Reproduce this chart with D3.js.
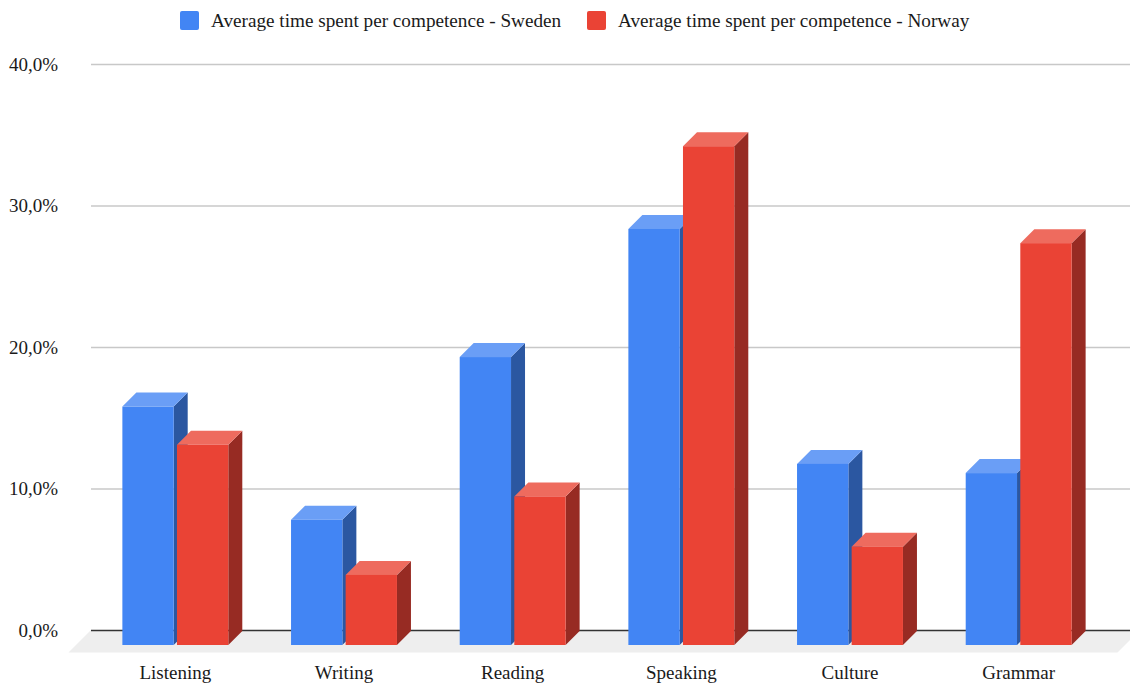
<!DOCTYPE html>
<html>
<head>
<meta charset="utf-8">
<script src="https://cdn.jsdelivr.net/npm/d3@7/dist/d3.min.js"></script>
<style>
	html, body { margin: 0; padding: 0; background: #fff; }
	svg { display: block; font-family: "Liberation Serif", serif; }
</style>
</head>
<body>
<svg id="chart" width="1130" height="684"></svg>
<script>
const categories = ['Listening', 'Writing', 'Reading', 'Speaking', 'Culture', 'Grammar'];
const seriesNames = ['Average time spent per competence - Sweden', 'Average time spent per competence - Norway'];
const sweden = [16.85, 8.85, 20.35, 29.4, 12.8, 12.15];
const norway = [14.15, 4.95, 10.5, 35.25, 6.95, 28.4];
const yTicks = [0, 10, 20, 30, 40];
const colors = [
	{front: '#4285f4', top: '#6a9ef6', side: '#2b57a1'},
	{front: '#ea4335', top: '#ee6b5e', side: '#972b23'},
];

const depthX = 14;
const depthY = 14;
const frontDrop = 15;
const floorOver = 22.5;
const left = 91;
const right = 1130;
const textColor = '#1a1a1a';

let svg = d3.select('#chart');
let locale = d3.formatLocale({decimal: ',', thousands: '.', grouping: [3], currency: ['', '']});
let fmt = locale.format('.1f');

let y = d3.scaleLinear().domain([0, 40]).range([630, 64]);
let x0 = d3.scaleBand().domain(categories).range([91, 1103]).paddingInner(0.372).paddingOuter(0.186);
let x1 = d3.scaleBand().domain([0, 1]).range([0, x0.bandwidth()]).paddingInner(0.06);

// floor under the bars
let floor = [
	[left, y(0)],
	[right + 10, y(0)],
	[right + 10 - floorOver, y(0) + floorOver],
	[left - floorOver, y(0) + floorOver],
];
svg.append('polygon')
	.attr('points', floor.join(' '))
	.attr('fill', '#eeeeee');

// y axis with gridlines
let yAxis = d3.axisLeft(y)
	.tickValues(yTicks)
	.tickSize(left - right)
	.tickFormat(d => fmt(d) + '%');
let yg = svg.append('g')
	.attr('transform', `translate(${left},0)`)
	.call(yAxis);
yg.select('.domain').remove();
yg.selectAll('.tick line')
	.attr('stroke', d => d === 0 ? '#333333' : '#c8c8c8')
	.attr('stroke-width', d => d === 0 ? 1.4 : 1.3);
yg.selectAll('.tick text')
	.attr('x', -33)
	.attr('fill', textColor)
	.attr('font-size', 19)
	.attr('font-family', '"Liberation Serif", serif');

// bars
let bars = [];
categories.forEach((c, i) => {
	bars.push({cat: c, s: 0, v: sweden[i]});
	bars.push({cat: c, s: 1, v: norway[i]});
});
let base = y(0) + frontDrop;
let bar = svg.append('g').selectAll('g').data(bars).join('g');

bar.append('polygon')
	.attr('fill', d => colors[d.s].side)
	.attr('points', d => {
		let r = x0(d.cat) + x1(d.s) + x1.bandwidth();
		let t = y(d.v) + frontDrop;
		return [[r, t], [r + depthX, t - depthY], [r + depthX, base - depthY], [r, base]].join(' ');
	});
bar.append('polygon')
	.attr('fill', d => colors[d.s].top)
	.attr('points', d => {
		let l = x0(d.cat) + x1(d.s);
		let r = l + x1.bandwidth();
		let t = y(d.v) + frontDrop;
		return [[l, t], [r, t], [r + depthX, t - depthY], [l + depthX, t - depthY]].join(' ');
	});
bar.append('rect')
	.attr('fill', d => colors[d.s].front)
	.attr('x', d => x0(d.cat) + x1(d.s))
	.attr('y', d => y(d.v) + frontDrop)
	.attr('width', x1.bandwidth())
	.attr('height', d => y(0) - y(d.v));

// category labels
let xAxis = d3.axisBottom(x0).tickSize(0);
let xg = svg.append('g')
	.attr('transform', 'translate(0,662)')
	.call(xAxis);
xg.select('.domain').remove();
xg.selectAll('.tick text')
	.attr('y', 3)
	.attr('fill', textColor)
	.attr('font-size', 19)
	.attr('font-family', '"Liberation Serif", serif');

// legend
let swatchX = [180, 587];
let legend = svg.append('g').selectAll('g').data(seriesNames).join('g')
	.attr('transform', (d, i) => `translate(${swatchX[i]},11)`);
legend.append('rect')
	.attr('width', 19)
	.attr('height', 19)
	.attr('rx', 2)
	.attr('fill', (d, i) => colors[i].front);
legend.append('text')
	.attr('x', 31)
	.attr('y', 16)
	.attr('fill', textColor)
	.attr('font-size', 19.2)
	.text(d => d);
</script>
</body>
</html>
